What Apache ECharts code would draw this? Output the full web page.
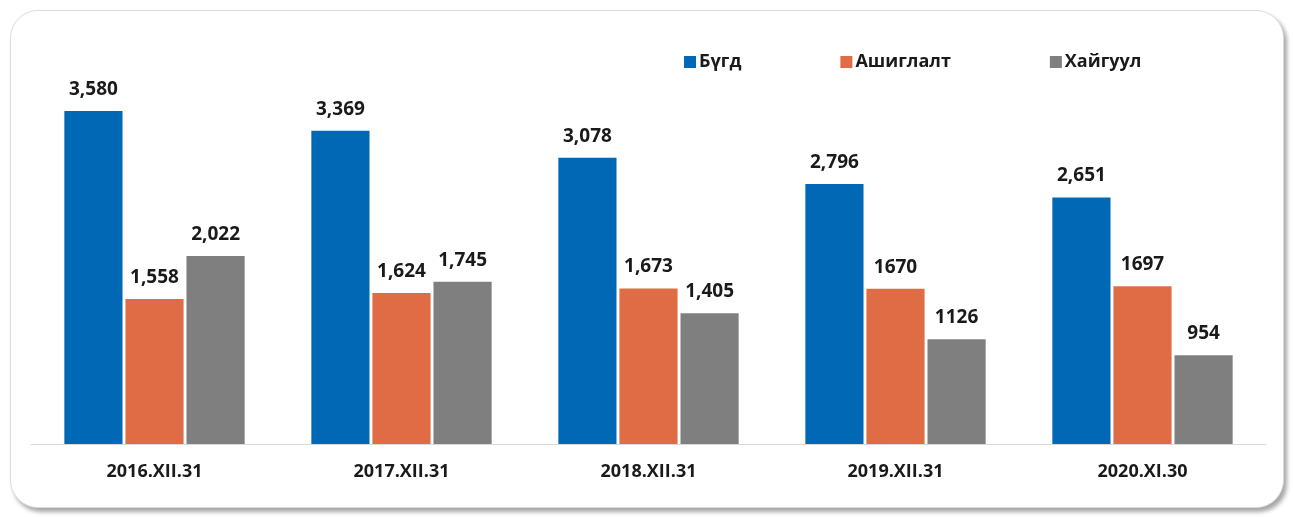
<!DOCTYPE html>
<html>
<head>
<meta charset="utf-8">
<script src="https://cdn.jsdelivr.net/npm/echarts@6/dist/echarts.min.js"></script>
<style>
html,body{margin:0;padding:0;background:#fff;}
#frame{position:absolute;left:10px;top:10px;width:1272px;height:496px;border:1px solid #dcdcdc;border-radius:28px;box-shadow:3px 4px 4px rgba(0,0,0,0.35);background:#fff;}
#chart{position:absolute;left:0;top:0;width:1293px;height:517px;}
</style>
</head>
<body>
<div id="frame"></div>
<div id="chart"></div>
<script>
const categories = ['2016.XII.31','2017.XII.31','2018.XII.31','2019.XII.31','2020.XI.30'];
const seriesNames = ['Бүгд','Ашиглалт','Хайгуул'];
const totalValues = [3580, 3369, 3078, 2796, 2651];
const usageValues = [1558, 1624, 1673, 1670, 1697];
const exploreValues = [2022, 1745, 1405, 1126, 954];
const totalLabels = ['3,580','3,369','3,078','2,796','2,651'];
const usageLabels = ['1,558','1,624','1,673','1670','1697'];
const exploreLabels = ['2,022','1,745','1,405','1126','954'];
const colors = ['#0068B5','#DF6C45','#7F7F7F'];

const font = '"Open Sans", sans-serif';
function mk(name, data, labels, color){
  return {
    name: name, type: 'bar', data: data,
    barGap: '5%', barCategoryGap: '27%',
    itemStyle: {color: color},
    label: {show: true, position: 'top', distance: 12,
      formatter: p => labels[p.dataIndex],
      fontFamily: font, fontWeight: 'bold', fontSize: 19, color: '#1a1a1a'}
  };
}
const chart = echarts.init(document.getElementById('chart'));
chart.setOption({
  animation: false,
  color: colors,
  legend: {
    data: seriesNames, left: 679, top: 48, itemWidth: 12, itemHeight: 12, itemGap: 99,
    icon: 'rect',
    textStyle: {fontFamily: font, fontWeight: 'bold', fontSize: 18, color: '#1a1a1a', padding: [0,0,0,-2]}
  },
  grid: {left: 31, right: 27, top: 72, bottom: 73},
  xAxis: {
    type: 'category', data: categories,
    axisLine: {lineStyle: {color: '#d9d9d9', width: 1}},
    axisTick: {show: false},
    axisLabel: {fontFamily: font, fontWeight: 'bold', fontSize: 18, color: '#1a1a1a', margin: 19}
  },
  yAxis: {type: 'value', min: 0, max: 4000, show: false, splitLine: {show: false}},
  series: [
    mk(seriesNames[0], totalValues, totalLabels, colors[0]),
    mk(seriesNames[1], usageValues, usageLabels, colors[1]),
    mk(seriesNames[2], exploreValues, exploreLabels, colors[2])
  ]
});
</script>
</body>
</html>
